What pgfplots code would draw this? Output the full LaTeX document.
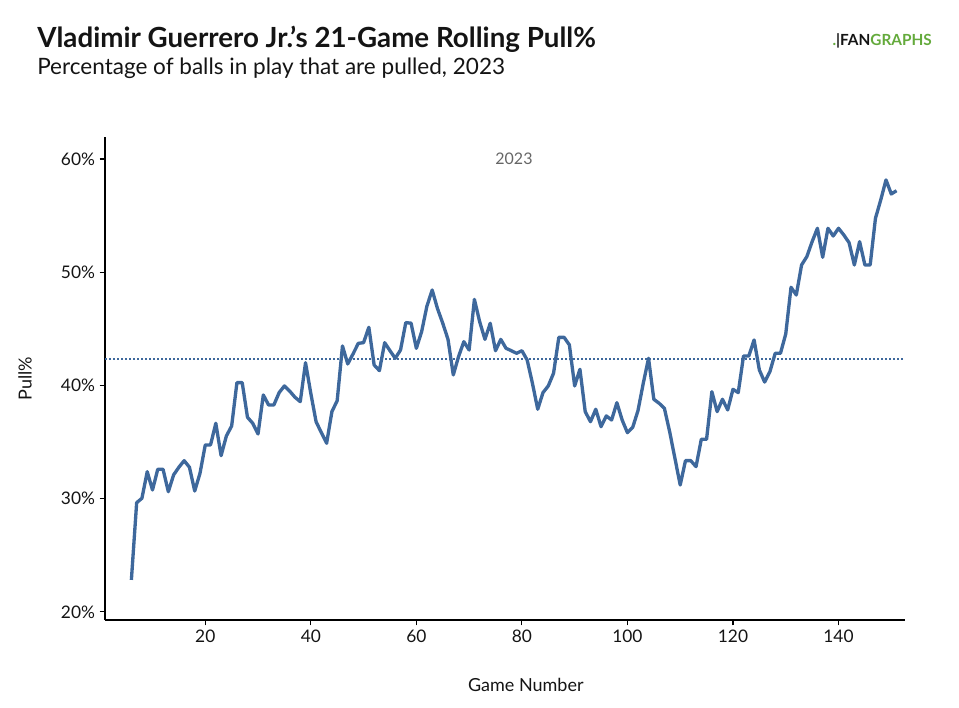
\documentclass[border=0pt]{standalone}
\usepackage{fontspec}
\setmainfont{Lato}
\usepackage{pgfplots}
\pgfplotsset{compat=1.18}
\definecolor{pline}{RGB}{62,104,156}
\definecolor{fggreen}{RGB}{100,170,60}
\definecolor{titlec}{RGB}{20,20,20}
\begin{document}
\begin{tikzpicture}
\path[use as bounding box] (0,0) rectangle (719.25pt,530.25pt);
\node[anchor=base west, font=\fontsize{20.8pt}{24pt}\selectfont\bfseries, text=titlec, inner sep=0pt] at (27.75pt,494.25pt) {Vladimir Guerrero Jr.'s 21-Game Rolling Pull\%};
\node[anchor=base west, font=\fontsize{16.9pt}{20pt}\selectfont, text=titlec, inner sep=0pt] at (27.75pt,474pt) {Percentage of balls in play that are pulled, 2023};
\node[anchor=base east, font=\fontsize{11.5pt}{13pt}\selectfont\bfseries, inner sep=0pt] at (699pt,496pt) {\textcolor{fggreen}{.}\textcolor{titlec}{\textbar}\textcolor{titlec}{FAN}\textcolor{fggreen}{GRAPHS}};
\begin{axis}[
  at={(78.75pt,65.25pt)}, anchor=south west,
  scale only axis, width=600pt, height=362.25pt,
  xmin=1, xmax=152.6, ymin=19.29, ymax=61.94,
  axis x line*=bottom, axis y line*=left,
  axis line style={-, black, line width=1pt},
  xtick={20,40,60,80,100,120,140},
  ytick={20,30,40,50,60},
  yticklabel={\pgfmathprintnumber{\tick}\%},
  /pgf/number format/assume math mode=true,
  tick align=outside, major tick length=4pt,
  tick style={black, line width=0.8pt},
  ticklabel style={font=\fontsize{13pt}{15pt}\selectfont, text=titlec},
  xlabel={Game Number}, ylabel={Pull\%},
  every axis x label/.style={at={(axis description cs:0.526,-0.135)}, anchor=center, font=\fontsize{13.5pt}{15pt}\selectfont, text=titlec},
  every axis y label/.style={at={(axis description cs:-0.1,0.5)}, rotate=90, anchor=center, font=\fontsize{13.5pt}{15pt}\selectfont, text=titlec},
  clip=false,
]
\addplot[pline, line width=1.4pt, dash pattern=on 1.4pt off 1.6pt] coordinates {(1,42.3) (152.6,42.3)};
\addplot[pline, line width=2.5pt, line join=round] coordinates {
(6,22.83) (7,29.65) (8,30.04) (9,32.39) (10,30.77) (11,32.6) (12,32.6) (13,30.62) (14,32.1) (15,32.78)
(16,33.36) (17,32.78) (18,30.68) (19,32.24) (20,34.75) (21,34.75) (22,36.66) (23,33.8) (24,35.54) (25,36.42)
(26,40.25) (27,40.25) (28,37.19) (29,36.66) (30,35.72) (31,39.16) (32,38.28) (33,38.28) (34,39.37) (35,39.96)
(36,39.5) (37,38.96) (38,38.57) (39,42.01) (40,39.3) (41,36.8) (42,35.83) (43,34.9) (44,37.69) (45,38.66)
(46,43.49) (47,41.9) (48,42.78) (49,43.72) (50,43.78) (51,45.14) (52,41.81) (53,41.31) (54,43.78) (55,43.07)
(56,42.4) (57,43.13) (58,45.55) (59,45.5) (60,43.28) (61,44.75) (62,47.0) (63,48.43) (64,46.8) (65,45.5)
(66,44.07) (67,40.93) (68,42.55) (69,43.87) (70,43.13) (71,47.6) (72,45.63) (73,44.07) (74,45.49) (75,43.07)
(76,44.07) (77,43.28) (78,43.07) (79,42.84) (80,43.07) (81,42.25) (82,40.19) (83,37.9) (84,39.37) (85,39.96)
(86,41.08) (87,44.25) (88,44.25) (89,43.58) (90,39.96) (91,41.43) (92,37.69) (93,36.8) (94,37.9) (95,36.36)
(96,37.31) (97,36.95) (98,38.48) (99,36.95) (100,35.83) (101,36.3) (102,37.78) (103,40.19) (104,42.4) (105,38.78)
(106,38.43) (107,37.99) (108,35.92) (109,33.57) (110,31.21) (111,33.36) (112,33.36) (113,32.83) (114,35.25) (115,35.25)
(116,39.45) (117,37.69) (118,38.78) (119,37.84) (120,39.66) (121,39.37) (122,42.6) (123,42.6) (124,44.02) (125,41.37)
(126,40.3) (127,41.22) (128,42.84) (129,42.84) (130,44.55) (131,48.67) (132,47.99) (133,50.64) (134,51.38) (135,52.7)
(136,53.88) (137,51.32) (138,53.88) (139,53.2) (140,53.88) (141,53.29) (142,52.61) (143,50.64) (144,52.7) (145,50.64)
(146,50.64) (147,54.76) (148,56.38) (149,58.15) (150,56.91) (151,57.2)
};
\node[font=\fontsize{12pt}{14pt}\selectfont, text=black!60] at (axis cs:78.5,60) {2023};
\end{axis}
\end{tikzpicture}
\end{document}
